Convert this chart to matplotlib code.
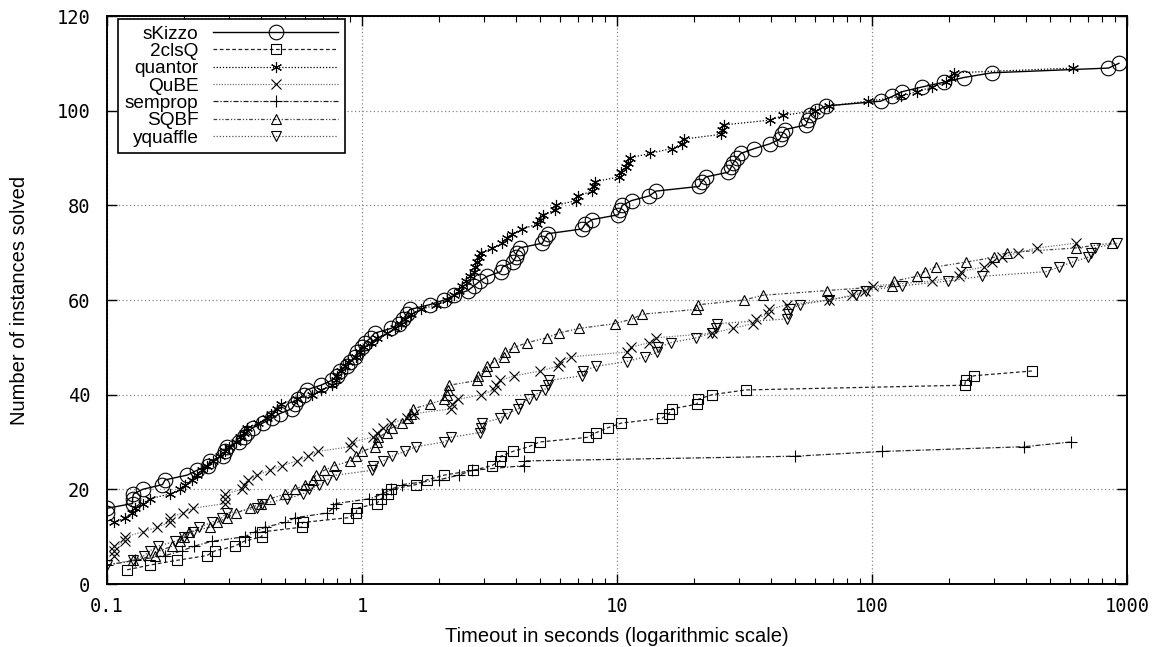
import matplotlib
matplotlib.use("Agg")
import matplotlib.pyplot as plt
from matplotlib.ticker import LogLocator, NullFormatter, FixedLocator, FixedFormatter

# --- data: (timeout, instances solved) ---
skizzo_x = [0.100, 0.100, 0.126, 0.126, 0.127, 0.138, 0.165, 0.169, 0.206, 0.225, 0.250, 0.253,
            0.285, 0.290, 0.295, 0.330, 0.345, 0.353, 0.373, 0.408, 0.443, 0.476, 0.530, 0.545,
            0.560, 0.590, 0.606, 0.690, 0.760, 0.800, 0.820, 0.870, 0.900, 0.940, 0.960, 1.00,
            1.03, 1.08, 1.12, 1.30, 1.40, 1.45, 1.50, 1.54, 1.84, 2.10, 2.30, 2.60, 2.75, 2.90,
            3.10, 3.50, 3.56, 3.90, 4.00, 4.04, 4.15, 5.10, 5.20, 5.34, 7.28, 7.50, 8.00, 10.1,
            10.3, 10.5, 11.4, 13.4, 14.2, 21.0, 21.5, 22.3, 27.3, 28.0, 28.6, 29.5, 30.7, 34.6,
            39.8, 43.5, 44.5, 45.6, 55.2, 56.0, 57.2, 60.8, 66.0, 108, 120, 131, 157, 191, 229,
            295, 846, 930]
skizzo_y = list(range(15, 111))

twocls_x = [0.120, 0.147, 0.188, 0.246, 0.265, 0.317, 0.344, 0.405, 0.405, 0.580, 0.585, 0.880,
            0.950, 0.955, 1.14, 1.19, 1.26, 1.30, 1.63, 1.80, 2.10, 2.72, 3.23, 3.47, 3.50, 3.90,
            4.50, 4.97, 7.70, 8.30, 9.20, 10.4, 15.0, 16.0, 16.4, 20.6, 20.8, 23.6, 32.0, 231,
            233, 251, 424]
twocls_y = list(range(3, 46))

quantor_x = [0.107, 0.118, 0.125, 0.129, 0.138, 0.147, 0.176, 0.193, 0.202, 0.215, 0.225, 0.235,
             0.246, 0.260, 0.277, 0.290, 0.300, 0.320, 0.332, 0.345, 0.353, 0.390, 0.423, 0.440,
             0.464, 0.480, 0.556, 0.635, 0.690, 0.760, 0.790, 0.800, 0.830, 0.860, 0.880, 0.950,
             0.980, 1.02, 1.08, 1.15, 1.25, 1.35, 1.42, 1.48, 1.55, 1.70, 1.95, 2.15, 2.30, 2.40,
             2.46, 2.55, 2.64, 2.75, 2.78, 2.83, 2.88, 2.93, 3.22, 3.55, 3.70, 3.86, 4.26, 4.84,
             5.00, 5.12, 5.70, 5.75, 6.90, 7.00, 8.00, 8.10, 8.20, 10.2, 10.4, 10.8, 11.0, 11.2,
             13.5, 16.4, 18.0, 18.3, 25.6, 25.9, 26.3, 39.8, 44.8, 60.0, 67.8, 96.5, 130, 150,
             172, 195, 205, 210, 616]
quantor_y = list(range(13, 110))

qube_x = [0.107, 0.107, 0.107, 0.118, 0.118, 0.138, 0.157, 0.176, 0.176, 0.198, 0.217, 0.290,
          0.290, 0.290, 0.338, 0.343, 0.357, 0.387, 0.435, 0.485, 0.556, 0.614, 0.670, 0.900,
          0.910, 1.10, 1.15, 1.21, 1.30, 1.50, 1.60, 2.24, 2.26, 2.37, 2.94, 3.30, 3.35, 3.47,
          3.96, 4.98, 5.86, 5.95, 6.60, 10.9, 11.3, 13.4, 14.2, 23.6, 28.4, 34.0, 35.2, 39.0,
          39.5, 46.3, 67.8, 83.5, 94.0, 101, 172, 220, 223, 275, 295, 324, 373, 445, 630]
qube_y = list(range(6, 73))

semprop_x = [0.100, 0.129, 0.169, 0.196, 0.220, 0.257, 0.347, 0.380, 0.416, 0.500, 0.546, 0.730,
             0.770, 0.790, 1.07, 1.20, 1.30, 1.44, 2.00, 2.40, 2.70, 4.30, 4.32, 50.0, 109, 394,
             602]
semprop_y = list(range(4, 31))

sqbf_x = [0.126, 0.154, 0.161, 0.180, 0.193, 0.200, 0.210, 0.253, 0.270, 0.295, 0.320, 0.363,
          0.400, 0.435, 0.500, 0.546, 0.600, 0.640, 0.660, 0.710, 0.780, 0.900, 0.950, 1.00,
          1.12, 1.14, 1.16, 1.25, 1.31, 1.43, 1.51, 1.55, 1.58, 1.84, 2.10, 2.15, 2.18, 2.20,
          2.83, 2.86, 3.07, 3.10, 3.30, 3.60, 3.65, 3.96, 4.45, 5.30, 5.90, 7.10, 9.80, 11.5,
          12.5, 20.4, 20.8, 31.5, 37.3, 66.8, 120, 122, 150, 161, 178, 233, 300, 338, 630, 870]
sqbf_y = list(range(5, 73))

yquaffle_x = [0.100, 0.126, 0.140, 0.147, 0.158, 0.185, 0.200, 0.217, 0.230, 0.257, 0.282, 0.295,
              0.387, 0.405, 0.510, 0.585, 0.620, 0.680, 0.730, 0.790, 1.09, 1.10, 1.21, 1.31,
              1.47, 1.63, 2.10, 2.24, 2.90, 2.94, 2.96, 3.47, 3.70, 4.10, 4.15, 4.50, 4.80, 5.20,
              5.34, 5.40, 7.30, 7.35, 8.30, 10.9, 12.9, 14.4, 14.5, 16.3, 20.4, 23.6, 24.5, 24.6,
              46.3, 46.8, 47.5, 52.0, 67.8, 86.5, 95.0, 131, 198, 270, 483, 543, 610, 700, 723,
              750, 915]
yquaffle_y = list(range(4, 73))

x_ticks = [0.1, 1, 10, 100, 1000]
x_tick_labels = ["0.1", "1", "10", "100", "1000"]
y_ticks = [0, 20, 40, 60, 80, 100, 120]

# --- figure ---
plt.rcParams['font.family'] = ['Liberation Sans', 'DejaVu Sans']
fig = plt.figure(figsize=(11.6, 6.47), dpi=100)
ax = fig.add_axes([107 / 1160, 1 - 584 / 647, 1020 / 1160, 568 / 647])

series = [
    ("sKizzo", skizzo_x, skizzo_y, dict(marker='o', ms=10.5, ls='-', color='black', lw=1.0)),
    ("2clsQ", twocls_x, twocls_y, dict(marker='s', ms=7, ls=(0, (3, 2)), color='#222222', lw=0.9)),
    ("quantor", quantor_x, quantor_y, dict(marker=(6, 2, 0), ms=8, ls=(0, (1, 1.5)), color='black', lw=0.9)),
    ("QuBE", qube_x, qube_y, dict(marker='x', ms=7, ls=(0, (1, 1.2)), color='#777777', lw=0.9)),
    ("semprop", semprop_x, semprop_y, dict(marker='+', ms=8, ls=(0, (4, 1.5, 1, 1.5)), color='#222222', lw=0.9)),
    ("SQBF", sqbf_x, sqbf_y, dict(marker='^', ms=6.5, ls=(0, (3, 1.5, 1, 1.5, 1, 1.5)), color='#444444', lw=0.9)),
    ("yquaffle", yquaffle_x, yquaffle_y, dict(marker='v', ms=6.5, ls=(0, (1, 1.5)), color='#555555', lw=0.9)),
]

for name, xs, ys, st in series:
    ax.plot(xs, ys, label=name, mfc='none', mec='black', mew=0.8, **st)

ax.set_xscale('log')
ax.set_xlim(0.1, 1000)
ax.set_ylim(0, 120)

ax.xaxis.set_major_locator(FixedLocator(x_ticks))
ax.xaxis.set_major_formatter(FixedFormatter(x_tick_labels))
ax.xaxis.set_minor_locator(LogLocator(base=10, subs=range(2, 10)))
ax.xaxis.set_minor_formatter(NullFormatter())
ax.set_yticks(y_ticks)

for lab in ax.get_xticklabels() + ax.get_yticklabels():
    lab.set_fontfamily('DejaVu Sans Mono')
    lab.set_fontsize(13.5)

ax.tick_params(which='both', direction='in', top=True, right=True, colors='black')
ax.tick_params(which='major', length=7, width=1)
ax.tick_params(axis='x', which='major', pad=9)
ax.tick_params(axis='y', which='major', pad=12)
ax.tick_params(which='minor', length=4, width=0.8)

ax.grid(True, which='major', ls=(0, (1, 2)), color='#888888', lw=0.9)
for sp in ax.spines.values():
    sp.set_linewidth(1.4)

ax.set_xlabel("Timeout in seconds (logarithmic scale)", fontsize=14.5, labelpad=8)
ax.set_ylabel("Number of instances solved", fontsize=14.5, labelpad=20)

leg = ax.legend(loc='upper left', bbox_to_anchor=(0.011, 0.995), borderaxespad=0,
                markerfirst=False, fontsize=13.7, handlelength=6.6, labelspacing=0.0,
                handletextpad=0.75, borderpad=0.35, fancybox=False,
                framealpha=1, edgecolor='black')
leg.get_frame().set_linewidth(1.2)
for t in leg.get_texts():
    t.set_ha('right')
leg._legend_box.align = 'right'

fig.savefig("out.png", dpi=100)
